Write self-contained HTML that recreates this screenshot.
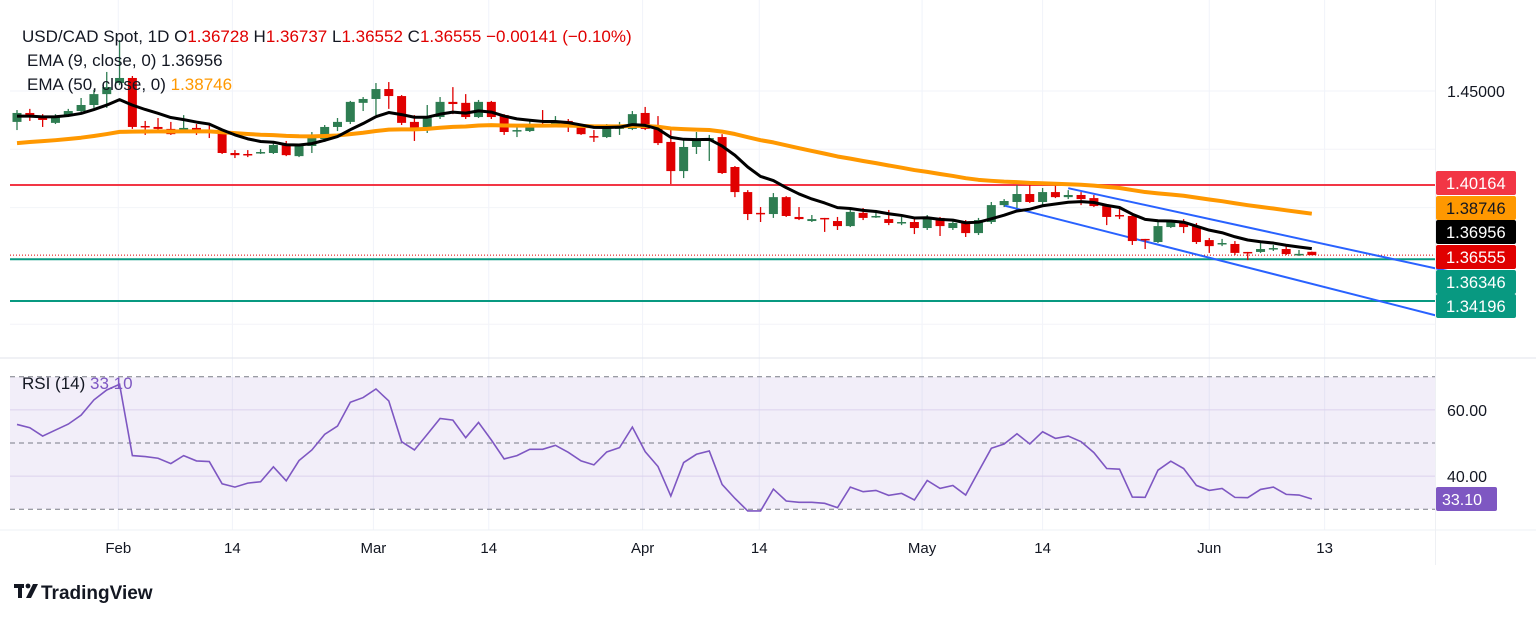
<!DOCTYPE html>
<html><head><meta charset="utf-8"><title>USD/CAD Spot 1D</title>
<style>
html,body{margin:0;padding:0;background:#fff;}
body{width:1536px;height:617px;overflow:hidden;font-family:"Liberation Sans",sans-serif;}
svg text{font-family:"Liberation Sans",sans-serif;}
</style></head>
<body>
<svg id="chart" width="1536" height="617" viewBox="0 0 1536 617" xmlns="http://www.w3.org/2000/svg">
<g id="grid"></g>
<rect x="10" y="377" width="1425" height="132" fill="#7e57c2" fill-opacity="0.1"/>
<g id="hlines"></g>
<g id="trend"></g>
<g id="candles"></g>
<g id="emas"></g>
<g id="rsi"></g>
<g id="labels"></g>
<g id="xaxis"></g>
<line x1="0" y1="358" x2="1536" y2="358" stroke="#e0e3eb" stroke-width="1"/>
<line x1="1435.5" y1="0" x2="1435.5" y2="565" stroke="#eef0f4" stroke-width="1"/>
<line x1="0" y1="530" x2="1536" y2="530" stroke="#eef0f4" stroke-width="1"/>
<g font-size="17">
<text x="22" y="42" fill="#131722">USD/CAD Spot, 1D  <tspan fill="#131722">O</tspan><tspan fill="#e00000">1.36728</tspan> <tspan fill="#131722">H</tspan><tspan fill="#e00000">1.36737</tspan> <tspan fill="#131722">L</tspan><tspan fill="#e00000">1.36552</tspan> <tspan fill="#131722">C</tspan><tspan fill="#e00000">1.36555  −0.00141 (−0.10%)</tspan></text>
<text x="27" y="66" fill="#131722">EMA (9, close, 0)  1.36956</text>
<text x="27" y="90" fill="#131722">EMA (50, close, 0)  <tspan fill="#ff9800">1.38746</tspan></text>
<text x="22" y="389" fill="#131722">RSI (14)  <tspan fill="#7e57c2">33.10</tspan></text>
</g>
<g>
<rect x="14" y="584" width="10" height="4" fill="#131722"/><rect x="18" y="584" width="4" height="14" fill="#131722"/>
<circle cx="28" cy="586" r="2.4" fill="#131722"/><polygon points="33,584 38,584 31,598 26,598" fill="#131722"/>
<text x="41" y="599" font-size="19" font-weight="bold" fill="#131722">TradingView</text>
</g>
</svg>
<script>
const opens=[1.4341,1.4387,1.4371,1.4336,1.4371,1.4397,1.4428,1.4484,1.4541,1.4567,1.4320,1.4315,1.4305,1.4294,1.4310,1.4294,1.4284,1.4181,1.4176,1.4181,1.4181,1.4222,1.4165,1.4217,1.4253,1.4315,1.4341,1.4439,1.4459,1.4510,1.4474,1.4341,1.4310,1.4366,1.4444,1.4439,1.4366,1.4444,1.4376,1.4294,1.4294,1.4325,1.4325,1.4346,1.4315,1.4268,1.4263,1.4305,1.4305,1.4387,1.4305,1.4238,1.4088,1.4212,1.4243,1.4263,1.4109,1.3980,1.3873,1.3867,1.3954,1.3852,1.3831,1.3847,1.3831,1.3805,1.3873,1.3852,1.3841,1.3821,1.3826,1.3795,1.3847,1.3795,1.3821,1.3769,1.3826,1.3913,1.3929,1.3970,1.3929,1.3980,1.3954,1.3965,1.3949,1.3908,1.3862,1.3857,1.3739,1.3723,1.3800,1.3826,1.3805,1.3733,1.3713,1.3713,1.3672,1.3672,1.3687,1.3687,1.3661,1.36728];
const closes=[1.4387,1.4371,1.4351,1.4371,1.4397,1.4428,1.4484,1.4520,1.4567,1.4315,1.4315,1.4305,1.4278,1.4310,1.4289,1.4289,1.4181,1.4170,1.4173,1.4186,1.4222,1.4170,1.4217,1.4258,1.4315,1.4341,1.4444,1.4459,1.4510,1.4474,1.4336,1.4310,1.4366,1.4444,1.4433,1.4366,1.4444,1.4366,1.4289,1.4299,1.4320,1.4320,1.4341,1.4315,1.4278,1.4263,1.4310,1.4320,1.4381,1.4305,1.4232,1.4088,1.4212,1.4243,1.4258,1.4078,1.3980,1.3867,1.3867,1.3954,1.3857,1.3841,1.3841,1.3841,1.3805,1.3878,1.3847,1.3857,1.3821,1.3826,1.3795,1.3852,1.3805,1.3821,1.3769,1.3836,1.3913,1.3934,1.3970,1.3929,1.3980,1.3954,1.3965,1.3944,1.3908,1.3852,1.3857,1.3728,1.3733,1.3805,1.3826,1.3800,1.3723,1.3702,1.3718,1.3667,1.3667,1.3687,1.3692,1.3661,1.3662,1.36555];
const highs=[1.4402,1.4408,1.4381,1.4381,1.4408,1.4464,1.4505,1.4598,1.4762,1.4577,1.4346,1.4361,1.4341,1.4376,1.4330,1.4325,1.4299,1.4196,1.4196,1.4201,1.4243,1.4243,1.4222,1.4289,1.4325,1.4361,1.4449,1.4469,1.4541,1.4546,1.4479,1.4376,1.4428,1.4469,1.4520,1.4484,1.4454,1.4449,1.4381,1.4315,1.4346,1.4402,1.4371,1.4356,1.4330,1.4299,1.4330,1.4341,1.4397,1.4418,1.4371,1.4310,1.4258,1.4289,1.4274,1.4278,1.4114,1.3990,1.3903,1.3975,1.3959,1.3903,1.3862,1.3847,1.3852,1.3893,1.3898,1.3888,1.3888,1.3852,1.3852,1.3862,1.3852,1.3831,1.3836,1.3847,1.3929,1.3944,1.4016,1.4016,1.4001,1.4016,1.3990,1.3980,1.3965,1.3918,1.3893,1.3862,1.3739,1.3831,1.3836,1.3841,1.3821,1.3744,1.3739,1.3728,1.3672,1.3718,1.3708,1.3708,1.3682,1.36737];
const lows=[1.4299,1.4346,1.4315,1.4330,1.4366,1.4392,1.4413,1.4413,1.4530,1.4305,1.4274,1.4299,1.4274,1.4289,1.4274,1.4258,1.4176,1.4155,1.4160,1.4176,1.4176,1.4165,1.4160,1.4181,1.4238,1.4294,1.4330,1.4397,1.4376,1.4408,1.4325,1.4243,1.4284,1.4356,1.4381,1.4356,1.4361,1.4356,1.4274,1.4263,1.4289,1.4315,1.4315,1.4289,1.4274,1.4238,1.4258,1.4274,1.4299,1.4299,1.4222,1.4021,1.4052,1.4176,1.4140,1.4073,1.3954,1.3836,1.3826,1.3847,1.3852,1.3836,1.3826,1.3775,1.3785,1.3800,1.3836,1.3847,1.3810,1.3810,1.3764,1.3785,1.3754,1.3785,1.3749,1.3759,1.3816,1.3903,1.3898,1.3924,1.3903,1.3949,1.3944,1.3913,1.3903,1.3810,1.3841,1.3708,1.3687,1.3718,1.3795,1.3769,1.3713,1.3667,1.3702,1.3656,1.3630,1.3667,1.3677,1.3656,1.3651,1.36552];
const rsiValues=[55.6,54.6,52.1,53.9,55.7,58.4,63.0,66.0,67.7,46.2,45.9,45.4,43.8,46.2,44.6,44.4,37.7,36.7,37.9,38.3,42.8,38.6,44.7,47.9,52.6,55.1,62.3,63.7,66.3,62.7,50.4,47.9,52.6,57.4,56.9,51.6,56.2,50.9,45.2,46.2,48.1,48.1,49.3,47.2,44.6,43.4,47.3,48.6,54.8,47.4,42.9,34.0,44.1,46.6,47.6,37.5,33.3,29.5,29.5,36.1,32.5,32.1,32.1,31.8,30.5,36.7,35.3,35.7,34.2,34.8,32.8,38.7,36.3,37.2,34.3,41.4,48.4,49.7,52.8,49.7,53.4,51.4,52.1,50.4,47.1,42.3,42.1,33.7,33.6,41.8,44.5,42.3,37.2,35.7,36.3,33.6,33.5,36.0,36.7,34.5,34.3,33.1];
const ema9Seed=1.4371;
const ema50Seed=1.4232;
const xTickLabels=["Feb","14","Mar","14","Apr","14","May","14","Jun","13"];
const xTickIdx=[7.9,16.8,27.8,36.8,48.8,57.9,70.6,80,93,102];
const levelPrices=[1.40164,1.36346,1.34196];
const upperTrend=[[82,1.4000],[112,1.3568]];
const lowerTrend=[[77,1.3911],[111,1.3340]];
const rsiTicks=[60,40];
const priceTicks=[1.45];

const NS="http://www.w3.org/2000/svg";
function X(i){return 17+i*12.82;}
function Y(p){return 91+(1.45-p)*1943.7;}
function RY(r){return 443-(r-50)*3.315;}
function mk(tag,attrs,parent){const e=document.createElementNS(NS,tag);for(const k in attrs)e.setAttribute(k,attrs[k]);parent.appendChild(e);return e;}
const G=id=>document.getElementById(id);

const grid=G('grid');
xTickIdx.forEach(ix=>{const l=mk('line',{x1:X(ix),x2:X(ix),y1:0,y2:530,stroke:'#f0f3fa','stroke-width':1},grid);

});
priceTicks.forEach(p=>{const l=mk('line',{x1:10,x2:1435,y1:Y(p),y2:Y(p),stroke:'#f0f3fa'},grid);

});
[Y(1.42),Y(1.39),Y(1.33)].forEach(y=>{const l=mk('line',{x1:10,x2:1435,y1:y,y2:y,stroke:'#f3f4f8'},grid);

});
rsiTicks.forEach(r=>{const l=mk('line',{x1:10,x2:1435,y1:RY(r),y2:RY(r),stroke:'#e6e0f2'},grid);

});

const hl=G('hlines');
const lvlColors=['#f23645','#089981','#089981'];
levelPrices.forEach((p,k)=>{const l=mk('line',{x1:10,x2:1435,y1:Y(p),y2:Y(p),stroke:lvlColors[k],'stroke-width':2},hl);

});
const lastC=closes[closes.length-1];
const dl=mk('line',{x1:10,x2:1435,y1:Y(lastC),y2:Y(lastC),stroke:'#e00000','stroke-width':1,'stroke-dasharray':'1 2'},hl);



const tr=G('trend');
[upperTrend,lowerTrend].forEach((t,k)=>{const l=mk('line',{x1:X(t[0][0]),y1:Y(t[0][1]),x2:X(t[1][0]),y2:Y(t[1][1]),stroke:'#2962ff','stroke-width':2},tr);

});

const cg=G('candles');
for(let i=0;i<closes.length;i++){
 const up=closes[i]>=opens[i];const col=up?'#2e7d52':'#e00000';
 const g=mk('g',{},cg);
 
 
 mk('line',{x1:X(i),x2:X(i),y1:Y(highs[i]),y2:Y(lows[i]),stroke:col,'stroke-width':1.3},g);
 const t=Y(Math.max(opens[i],closes[i])),b=Y(Math.min(opens[i],closes[i]));
 mk('rect',{x:X(i)-4.5,y:t,width:9,height:Math.max(1.5,b-t),fill:col},g);
}

function ema(seed,n){const a=2/(n+1);let v=seed;return closes.map((c,i)=>{v=i===0?seed:v+a*(c-v);return v;});}
const e9=ema(ema9Seed,9),e50=ema(ema50Seed,50);
const eg=G('emas');
const p50=mk('path',{d:e50.map((v,i)=>(i?'L':'M')+X(i)+','+Y(v)).join(''),fill:'none',stroke:'#ff9800','stroke-width':4,'stroke-linejoin':'round'},eg);


const p9=mk('path',{d:e9.map((v,i)=>(i?'L':'M')+X(i)+','+Y(v)).join(''),fill:'none',stroke:'#000','stroke-width':3,'stroke-linejoin':'round'},eg);



const rg=G('rsi');
[70,50,30].forEach(r=>{const l=mk('line',{x1:10,x2:1435,y1:RY(r),y2:RY(r),stroke:'#787b86','stroke-dasharray':'5 4'},rg);

});
const rp=mk('path',{d:rsiValues.map((v,i)=>(i?'L':'M')+X(i)+','+RY(v)).join(''),fill:'none',stroke:'#7e57c2','stroke-width':1.6},rg);


rsiTicks.forEach(r=>{const t=mk('text',{x:1447,y:RY(r)+6,'font-size':16,fill:'#131722'},rg);t.textContent=r.toFixed(2);

});
const lastR=rsiValues[rsiValues.length-1];
const rb=mk('rect',{x:1436,y:RY(lastR)-12,width:61,height:24,rx:2,fill:'#7e57c2'},rg);


const rt=mk('text',{x:1442,y:RY(lastR)+6,'font-size':16,fill:'#fff'},rg);rt.textContent=lastR.toFixed(2);

const lg=G('labels');
priceTicks.forEach(p=>{const t=mk('text',{x:1447,y:Y(p)+6,'font-size':16,fill:'#131722'},lg);t.textContent=p.toFixed(5);

});
const badgeText=['1.40164','1.38746','1.36956','1.36555','1.36346','1.34196'];
const badgeFill=['#f23645','#ff9800','#000000','#e00000','#089981','#089981'];
const badgeInk=['#fff','#131722','#fff','#fff','#fff','#fff'];
const badgeY=[171,196,220,245,270,294];
badgeText.forEach((s,k)=>{const r=mk('rect',{x:1436,y:badgeY[k],width:80,height:24,rx:2,fill:badgeFill[k]},lg);


const t=mk('text',{x:1446,y:badgeY[k]+18,'font-size':16.5,fill:badgeInk[k]},lg);t.textContent=s;});

const xg=G('xaxis');
xTickLabels.forEach((s,k)=>{const t=mk('text',{x:X(xTickIdx[k]),y:553,'font-size':15,fill:'#131722','text-anchor':'middle'},xg);t.textContent=s;

});
</script>
</body></html>
